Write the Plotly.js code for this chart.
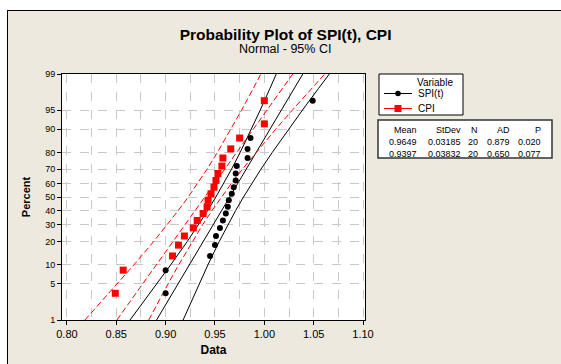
<!DOCTYPE html>
<html><head><meta charset="utf-8">
<script src="https://cdn.plot.ly/plotly-3.0.1.min.js"></script>
<style>
html,body{margin:0;padding:0;background:#fff;overflow:hidden;width:561px;height:364px}
#chart{position:absolute;left:7px;top:10px;width:553px;height:353px;border-left:1px solid #000;border-top:1px solid #000;}
</style></head><body><div id="chart"></div>
<script>
// ---- data ----
const seriesNames = ['SPI(t)', 'CPI'];
const spiValues = [0.900, 0.900, 0.945, 0.950, 0.951, 0.955, 0.958, 0.961, 0.963, 0.964,
                   0.967, 0.969, 0.971, 0.971, 0.972, 0.983, 0.983, 0.986, 1.000, 1.049];
const cpiValues = [0.849, 0.857, 0.907, 0.913, 0.919, 0.928, 0.932, 0.938, 0.942, 0.943,
                   0.946, 0.949, 0.951, 0.953, 0.957, 0.958, 0.966, 0.975, 1.000, 1.000];
// plotting positions (percent) of the 20 ordered points
const plotPct = [3.43, 8.33, 13.24, 18.14, 23.04, 27.94, 32.84, 37.75, 42.65, 47.55,
                 52.45, 57.35, 62.25, 67.16, 72.06, 76.96, 81.86, 86.76, 91.67, 96.57];
// fitted lines (x at 1% and 99%)
const fitPct = [1, 99];
const spiFit = [0.8908, 1.0390];
const cpiFit = [0.8506, 1.0288];
// 95% confidence bands
const bandPct = [1, 2, 5, 10, 20, 30, 40, 50, 60, 70, 80, 90, 95, 98, 99];
const spiLower = [0.8639, 0.8749, 0.8911, 0.9052, 0.9219, 0.9333, 0.9427, 0.9509, 0.9588, 0.9667, 0.9755, 0.9869, 0.9959, 1.0057, 1.0121];
const spiUpper = [0.9177, 0.9241, 0.9339, 0.9429, 0.9543, 0.9631, 0.9710, 0.9789, 0.9872, 0.9965, 1.0080, 1.0246, 1.0387, 1.0549, 1.0659];
const cpiLower = [0.8182, 0.8314, 0.8509, 0.8679, 0.8879, 0.9017, 0.9129, 0.9229, 0.9324, 0.9419, 0.9524, 0.9662, 0.9770, 0.9888, 0.9965];
const cpiUpper = [0.8829, 0.8906, 0.9024, 0.9133, 0.9270, 0.9375, 0.9471, 0.9565, 0.9665, 0.9777, 0.9915, 1.0115, 1.0285, 1.0480, 1.0612];
// axis ticks
const pctTicks = [1, 5, 10, 20, 30, 40, 50, 60, 70, 80, 90, 95, 99];
const xTickVals = [0.80, 0.85, 0.90, 0.95, 1.00, 1.05, 1.10];
// summary table
const legendTitle = 'Variable';
const statsHeader = ['Mean', 'StDev', 'N', 'AD', 'P'];
const spiStats = ['0.9649', '0.03185', '20', '0.879', '0.020'];
const cpiStats = ['0.9397', '0.03832', '20', '0.650', '0.077'];

// ---- normal probability scale (percent -> z) ----
function probit(pct) {
  const p = pct / 100;
  const a = [-3.969683028665376e+01, 2.209460984245205e+02, -2.759285104469687e+02, 1.383577518672690e+02, -3.066479806614716e+01, 2.506628277459239e+00];
  const b = [-5.447609879822406e+01, 1.615858368580409e+02, -1.556989798598866e+02, 6.680131188771972e+01, -1.328068155288572e+01];
  const c = [-7.784894002430293e-03, -3.223964580411365e-01, -2.400758277161838e+00, -2.549732539343734e+00, 4.374664141464968e+00, 2.938163982698783e+00];
  const d = [7.784695709041462e-03, 3.224671290700398e-01, 2.445134137142996e+00, 3.754408661907416e+00];
  const pl = 0.02425, ph = 1 - pl;
  let q, r;
  if (p < pl) { q = Math.sqrt(-2 * Math.log(p));
    return (((((c[0]*q+c[1])*q+c[2])*q+c[3])*q+c[4])*q+c[5]) / ((((d[0]*q+d[1])*q+d[2])*q+d[3])*q+1); }
  if (p <= ph) { q = p - 0.5; r = q*q;
    return (((((a[0]*r+a[1])*r+a[2])*r+a[3])*r+a[4])*r+a[5])*q / (((((b[0]*r+b[1])*r+b[2])*r+b[3])*r+b[4])*r+1); }
  q = Math.sqrt(-2 * Math.log(1 - p));
  return -(((((c[0]*q+c[1])*q+c[2])*q+c[3])*q+c[4])*q+c[5]) / ((((d[0]*q+d[1])*q+d[2])*q+d[3])*q+1);
}
const Z = arr => arr.map(probit);

const BLACK = '#000000', RED = '#ff0000';
const RED_DASH = '6px,3px';
function line(x, pct, color, dash) {
  return {x: x, y: Z(pct), type: 'scatter', mode: 'lines', hoverinfo: 'skip', showlegend: false,
          line: {color: color, width: 1, dash: dash}};
}
const traces = [
  line(spiLower, bandPct, BLACK, 'solid'),
  line(spiUpper, bandPct, BLACK, 'solid'),
  line(spiFit, fitPct, BLACK, 'solid'),
  line(cpiLower, bandPct, RED, RED_DASH),
  line(cpiUpper, bandPct, RED, RED_DASH),
  line(cpiFit, fitPct, RED, RED_DASH),
  {x: spiValues, y: Z(plotPct), type: 'scatter', mode: 'markers', name: seriesNames[0], showlegend: false,
   marker: {color: BLACK, size: 6, symbol: 'circle'}},
  {x: cpiValues, y: Z(plotPct), type: 'scatter', mode: 'markers', name: seriesNames[1], showlegend: false,
   marker: {color: RED, size: 7, symbol: 'square'}}
];

// layout geometry (div is 553x353, plot area 303x246)
const W = 553, H = 353, L = 54, R = 196, T = 63, B = 44;
const pw = W - L - R, ph = H - T - B;
const px = dx => (dx - L) / pw;          // div px -> paper x
const py = dy => (H - B - dy) / ph;      // div px -> paper y

const annotations = [
  {text: 'Normal - 95% CI', x: px(277), y: py(38), xref: 'paper', yref: 'paper', showarrow: false,
   font: {size: 12.5, color: '#000'}, xanchor: 'center', yanchor: 'middle'}
];
// stats table text
const colRight = [411, 455, 472, 504, 535];
const rowY = [118.5, 130.5, 143];
[statsHeader, spiStats, cpiStats].forEach((row, ri) => {
  row.forEach((t, ci) => annotations.push({
    text: t, x: px(colRight[ci]), y: py(rowY[ri]), xref: 'paper', yref: 'paper', showarrow: false,
    xanchor: 'right', yanchor: 'middle', font: {size: 9, color: '#000'}
  }));
});

// legend (drawn with shapes + text)
const shapes = [
  {type: 'rect', xref: 'paper', yref: 'paper', x0: px(371), x1: px(455), y0: py(104), y1: py(63),
   line: {color: '#000', width: 1}, fillcolor: '#ffffff', layer: 'above'},
  {type: 'rect', xref: 'paper', yref: 'paper', x0: px(370), x1: px(544), y0: py(147), y1: py(109),
   line: {color: '#333', width: 1.5}, fillcolor: '#ffffff', layer: 'above'}
];
annotations.push({text: legendTitle, x: px(427), y: py(71.5), xref: 'paper', yref: 'paper', showarrow: false,
  xanchor: 'center', yanchor: 'middle', font: {size: 10, color: '#000'}});
const legRows = [82.5, 97.5];
const legColors = [BLACK, RED];
seriesNames.forEach((n, i) => {
  const yy = legRows[i];
  shapes.push({type: 'line', xref: 'paper', yref: 'paper', x0: px(376), x1: px(404), y0: py(yy), y1: py(yy),
               line: {color: legColors[i], width: 1}, layer: 'above'});
  const s = i === 0 ? 2.8 : 3.5;
  shapes.push({type: i === 0 ? 'circle' : 'rect', xref: 'paper', yref: 'paper',
               x0: px(390 - s), x1: px(390 + s), y0: py(yy + s), y1: py(yy - s),
               line: {color: legColors[i], width: 0}, fillcolor: legColors[i], layer: 'above'});
  annotations.push({text: n, x: px(408), y: py(yy), xref: 'paper', yref: 'paper', showarrow: false,
    xanchor: 'left', yanchor: 'middle', font: {size: 10, color: '#000'}});
});

const gridCol = '#c8c8c8';
const layout = {
  width: W, height: H,
  margin: {l: L, r: R, t: T, b: B},
  paper_bgcolor: '#ede9df', plot_bgcolor: '#ffffff',
  font: {family: 'Liberation Sans, Arial, sans-serif', color: '#000'},
  title: {text: '<b>Probability Plot of SPI(t), CPI</b>', font: {size: 15.5, color: '#000'},
          xref: 'container', x: 0.502, yref: 'container', y: 1 - 24 / H, yanchor: 'middle', xanchor: 'center'},
  showlegend: false,
  xaxis: {range: [0.795, 1.102], tickvals: xTickVals, tickformat: '.2f', ticks: 'outside', ticklen: 4,
          tickcolor: '#000', tickfont: {size: 11}, showline: true, linecolor: '#000', linewidth: 1, mirror: true,
          showgrid: true, gridcolor: gridCol, griddash: 'dash', gridwidth: 1, zeroline: false,
          minor: {dtick: 0.025, tick0: 0.8, showgrid: true, gridcolor: gridCol, griddash: 'dash', ticks: ''},
          title: {text: '<b>Data</b>', font: {size: 12}, standoff: 6}},
  yaxis: {range: [probit(1), probit(99)], tickvals: Z(pctTicks), ticktext: pctTicks.map(String),
          ticks: 'outside', ticklen: 4, tickcolor: '#000', tickfont: {size: 9},
          showline: true, linecolor: '#000', linewidth: 1, mirror: true,
          showgrid: true, gridcolor: gridCol, griddash: 'dash', gridwidth: 1, zeroline: false,
          title: {text: '<b>Percent</b>', font: {size: 11}, standoff: 12}},
  shapes: shapes,
  annotations: annotations
};

Plotly.newPlot('chart', traces, layout, {displayModeBar: false, staticPlot: true});
</script></body></html>
